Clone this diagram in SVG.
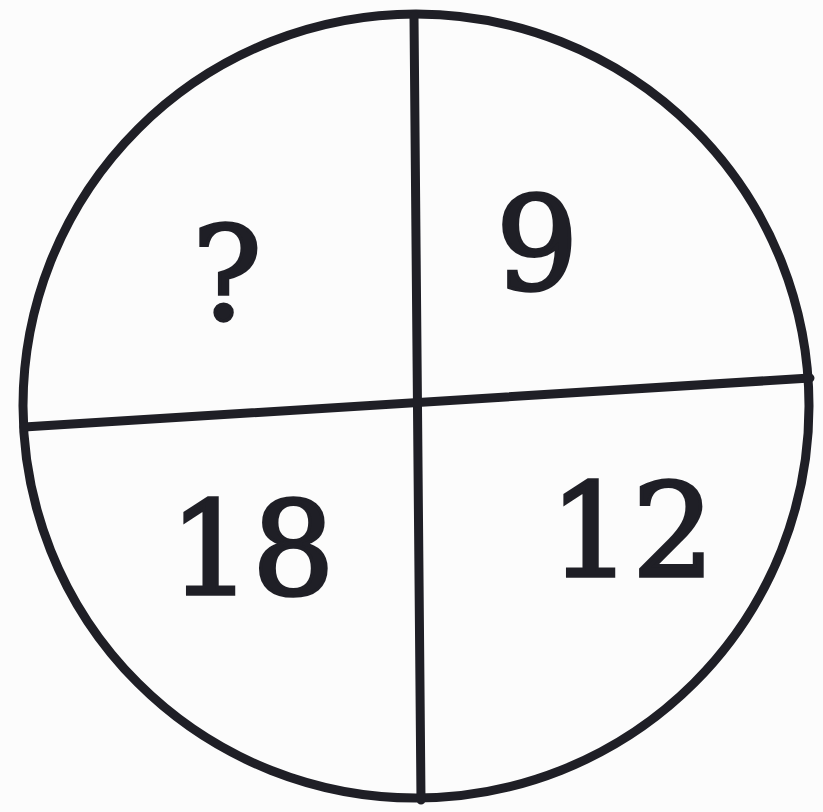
<svg xmlns="http://www.w3.org/2000/svg" width="823" height="812" viewBox="0 0 823 812">
<style>
.ln{stroke:#1f1f26;stroke-width:9;fill:none;stroke-linecap:round}
.t{font-family:"DejaVu Serif","Liberation Serif",serif;font-size:130px;fill:#1f1f26;stroke:#1f1f26;stroke-width:3.5;text-anchor:middle}
</style>
<rect width="823" height="812" fill="#fcfcfc"/>
<g id="circle"><ellipse class="ln" cx="416" cy="406" rx="393" ry="392"/></g>
<g id="dividers">
<line class="ln" x1="414" y1="16" x2="421" y2="800"/>
<line class="ln" x1="24" y1="427" x2="810" y2="378"/>
</g>
<g id="q-tl"><text class="t" x="227" y="319">?</text></g>
<g id="q-tr"><text class="t" x="537" y="289">9</text></g>
<g id="q-bl"><text class="t" x="252" y="594">18</text></g>
<g id="q-br"><text class="t" x="632" y="576">12</text></g>
</svg>
